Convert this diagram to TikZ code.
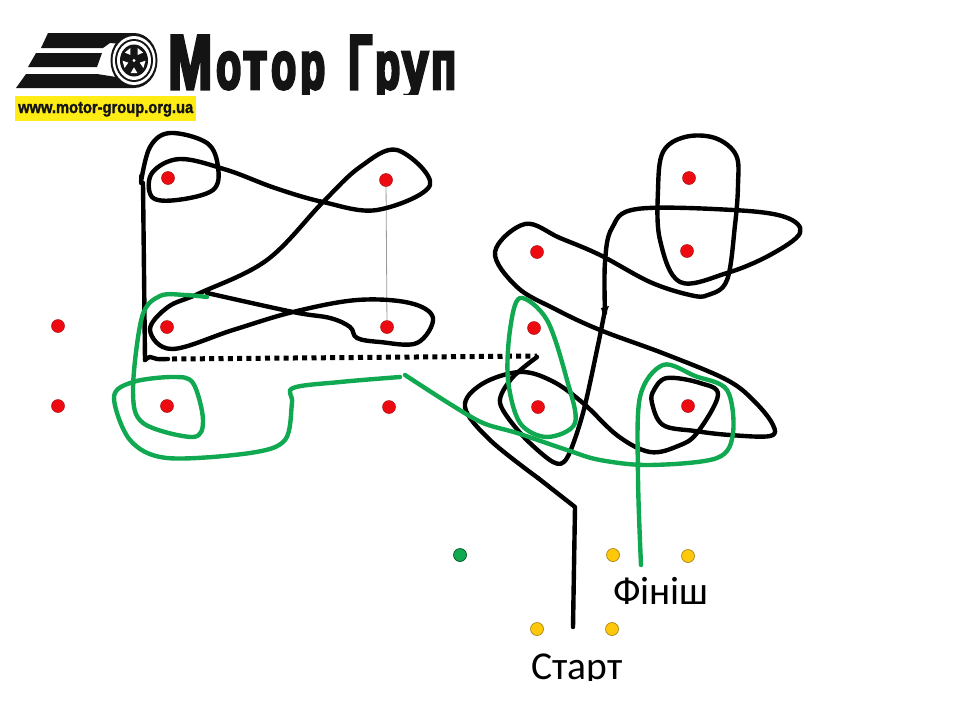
\documentclass[tikz,border=0pt]{standalone}
\usepackage{fontspec}
\usepackage{graphicx}
\setmainfont{Carlito}
\newfontfamily\logofont[FakeBold=5.5]{Liberation Sans}
\newfontfamily\urlfont[FakeBold=1.6]{Liberation Sans}
\definecolor{rd}{RGB}{237,10,16}
\definecolor{rdedge}{RGB}{170,20,20}
\definecolor{grn}{RGB}{16,168,80}
\definecolor{yel}{RGB}{255,200,10}
\definecolor{yeledge}{RGB}{170,135,20}
\definecolor{lg}{RGB}{20,20,20}
\definecolor{banner}{RGB}{255,236,20}
\newcommand{\logoglyph}[3]{\resizebox{#1pt}{#2pt}{\logofont\bfseries\fontsize{60pt}{64pt}\selectfont #3}}
\tikzset{
  x=1pt,y=-1pt,
  reddot/.style={circle,fill=rd,draw=rdedge,line width=0.5pt,minimum size=13pt,inner sep=0pt},
  yeldot/.style={circle,fill=yel,draw=yeledge,line width=0.7pt,minimum size=13pt,inner sep=0pt},
  grndot/.style={circle,fill=grn,draw=black!50!grn,line width=0.7pt,minimum size=13pt,inner sep=0pt},
  blk/.style={draw=black,line width=4.4pt,line cap=round,line join=round},
  grnl/.style={draw=grn,line width=4.4pt,line cap=round,line join=round},
  lbl/.style={font=\fontsize{39.5pt}{41pt}\selectfont,inner sep=0pt,anchor=base west},
  logol/.style={anchor=base west,inner sep=0pt,text=lg}
}
\begin{document}
\begin{tikzpicture}
\useasboundingbox (0,0) rectangle (960,720);
% logo stripes
\fill[lg] (48,33) -- (134,33) -- (134,45) -- (110,43) -- (103,48) -- (41,48) -- cycle;
\fill[lg] (36,53) -- (102,53) -- (97,67) -- (28,67) -- cycle;
\fill[lg] (26,74) -- (97,74) -- (110,76) -- (134,80) -- (134,88) -- (102,88) -- (16,88) -- cycle;
% wheel
\fill[lg] (134,60.5) ellipse[x radius=23.5,y radius=27.5];
\fill[white] (134,60.5) ellipse[x radius=21.5,y radius=24.5];
\fill[lg] (134,60.5) ellipse[x radius=19,y radius=21.5];
\fill[white] (134,60.5) ellipse[x radius=17,y radius=19.5];
\fill[lg] (134,60.5) ellipse[x radius=14,y radius=16];
\begin{scope}[shift={(134,60.5)},yscale=1.14]
\foreach \a in {-54,18,90,162,234} \fill[white] (\a:6) -- (\a+17:11.5) -- (\a-17:11.5) -- cycle;
\fill[white] (0,0) circle[radius=1.5];
\end{scope}
% logo text
\begin{scope}
\clip (160,34) rectangle (470,94);
\node[logol] (l1) at (168,88.5) {\logoglyph{44}{54}{М}};
\node[logol] (l2) at (216,88.5) {\logoglyph{25}{36}{о}};
\node[logol] (l3) at (243,88.5) {\logoglyph{24}{36}{т}};
\node[logol] (l4) at (271,88.5) {\logoglyph{25}{36}{о}};
\node[logol] (l5) at (300,88.5) {\logoglyph{25}{36}{р}};
\node[logol] (l6) at (348,88.5) {\logoglyph{24}{54}{Г}};
\node[logol] (l7) at (375,88.5) {\logoglyph{25}{36}{р}};
\node[logol] (l8) at (402,88.5) {\logoglyph{26}{36}{у}};
\node[logol] (l9) at (431,88.5) {\logoglyph{25}{36}{п}};
\end{scope}
\fill[banner] (15,96) rectangle (196,121);
\node[anchor=base west,inner sep=0pt,text=lg] (url) at (18,113) {\resizebox{175pt}{11pt}{\urlfont\bfseries\fontsize{15pt}{16pt}\selectfont www.motor-group.org.ua}};
% dots
\node[reddot] (a1) at (168,178) {};
\node[reddot] (a2) at (386,180) {};
\node[reddot] (a3) at (167,327) {};
\node[reddot] (a4) at (387,327) {};
\node[reddot] (a5) at (58,326) {};
\node[reddot] (a6) at (58,406) {};
\node[reddot] (a7) at (167,406) {};
\node[reddot] (a8) at (389,407) {};
\node[reddot] (b1) at (537,252) {};
\node[reddot] (b2) at (689,178) {};
\node[reddot] (b3) at (687,251) {};
\node[reddot] (b4) at (534,328) {};
\node[reddot] (b5) at (538,407) {};
\node[reddot] (b6) at (688,406) {};
\node[grndot] (g1) at (460,555) {};
\node[yeldot] (y1) at (613,555) {};
\node[yeldot] (y2) at (688,556) {};
\node[yeldot] (y3) at (537,629) {};
\node[yeldot] (y4) at (612,629) {};
\draw[gray!80,line width=0.8pt] (a2) -- (a4);
% black route
\coordinate (st) at (573,627);
\coordinate (kn) at (575,507);
\draw[blk] (st) -- (kn) -- (538,478);
\draw[blk] plot[smooth,tension=0.6] coordinates {(538,478) (490,440) (465,407) (482,384) (520,372) (552,381) (583,403) (618,436) (650,452) (678,446) (697,433) (718,395) (700,383) (667,378) (654,390) (652,403) (663,425) (695,431) (730,435) (770,436) (773,425) (755,402) (727,380) (665,354) (600,330) (555,309) (517,287) (495,252) (525,224) (560,238) (600,255) (650,282) (690,295) (708,295) (727,280) (735,225) (738,185) (736,155) (715,138) (685,137) (663,152) (658,190) (660,240) (680,282) (727,273) (770,255) (800,233) (785,217) (733,210) (637,209) (612,228) (605,262) (605,313)};
\draw[blk] plot[smooth,tension=0.5] coordinates {(605,310) (598,345) (583,413) (567,458) (553,462) (522,435) (500,403) (512,378) (537,357)};
\fill (601,308) -- (609,306) -- (604,318) -- cycle;
\draw[black,line width=5pt,dash pattern=on 5pt off 4.3pt] (172,359) -- (537,356);
\draw[blk] plot[smooth,tension=0.5] coordinates {(168,359) (157,359) (150,357) (145,360)};
\draw[blk] (145,360) -- (143,183);
\draw[blk] (141,176) -- (141,183);
\draw[blk] plot[smooth,tension=0.6] coordinates {(141,182) (150,147) (170,133) (207,143) (218,167) (213,190) (177,200) (152,197) (152,173) (180,159) (227,170) (275,188) (323,202) (377,210) (430,185) (397,150) (360,167) (323,202) (267,260) (200,293) (168,307) (150,330) (172,349) (233,330) (293,312) (357,300) (410,303) (433,318) (417,343) (380,342) (357,338) (350,327) (330,318) (293,312) (207,293)};
% green route
\coordinate (fn) at (641,565);
\draw[grnl] plot[smooth,tension=0.55] coordinates {(641,565) (638,477) (640,397) (663,365) (695,376) (727,390) (733,433) (717,458) (650,465) (600,460) (567,450) (517,433) (483,423) (450,404) (405,375)};
\draw[grnl] plot[smooth,tension=0.55] coordinates {(400,377) (340,382) (293,388) (292,403) (285,440) (250,453) (167,458) (130,440) (114,397) (133,382) (173,377) (193,383) (203,420) (193,437) (143,423) (133,390) (142,317) (160,296) (185,295) (207,297)};
\draw[grnl] plot[smooth cycle,tension=0.55] coordinates {(520,298) (547,320) (567,380) (575,423) (547,437) (520,423) (508,380) (510,330)};
% labels
\node[lbl] (fin) at (613,604) {Фініш};
\begin{scope}
\clip (500,640) rectangle (660,680);
\node[lbl] (sta) at (531,679) {Старт};
\end{scope}
\end{tikzpicture}
\end{document}
